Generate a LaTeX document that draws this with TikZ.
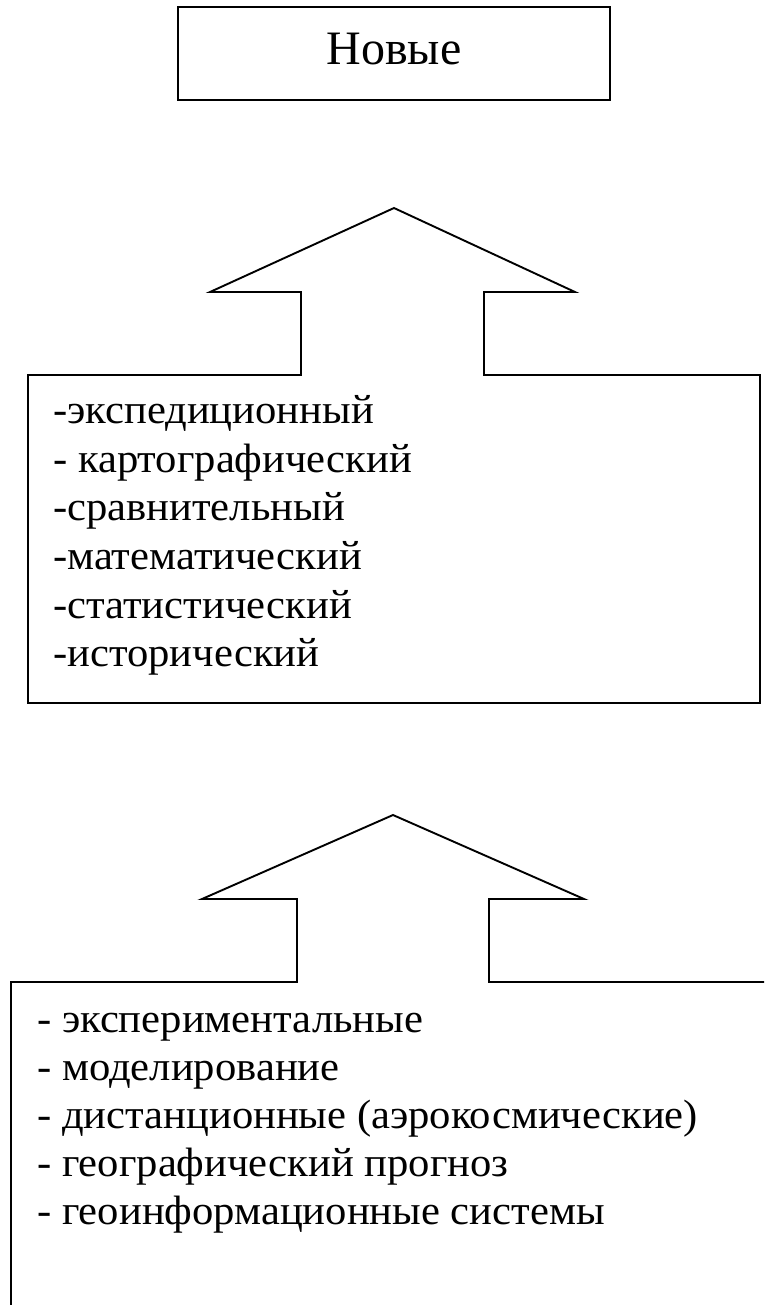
\documentclass[tikz,border=0pt]{standalone}
\usepackage{fontspec}
\setmainfont{Liberation Serif}
\newfontfamily\itemfont[FakeStretch=1.04]{Liberation Serif}
\begin{document}
\begin{tikzpicture}[x=1pt,y=-1pt,
  outline/.style={draw=black,line width=1.9pt,line join=miter},
  item/.style={anchor=base west,inner sep=0pt,font=\itemfont\fontsize{41}{48}\selectfont},
  titlebox/.style={draw=black,line width=1.9pt,minimum width=432pt,minimum height=93pt,
     inner sep=0pt,text height=35pt,text depth=12pt,font=\fontsize{48}{56}\selectfont}]
\useasboundingbox[fill=white] (0,0) rectangle (764,1305);
% title
\node[titlebox] (title) at (394,53.5) {Новые};
% upper arrow-box
\draw[outline] (28,375) -- (301,375) -- (301,292) -- (210,292) -- (394,208)
  -- (575,292) -- (484,292) -- (484,375) -- (760,375) -- (760,703) -- (28,703) -- cycle;
\node[item] (a1) at (53,423) {-экспедиционный};
\node[item] (a2) at (53,472) {- картографический};
\node[item] (a3) at (53,520) {-сравнительный};
\node[item] (a4) at (53,569) {-математический};
\node[item] (a5) at (53,618) {-статистический};
\node[item] (a6) at (53,666) {-исторический};
% lower arrow-box
\draw[outline] (764,982) -- (489,982) -- (489,899) -- (584,899) -- (393,815)
  -- (202,899) -- (297,899) -- (297,982) -- (11,982) -- (11,1306);
\node[item] (b1) at (37,1032) {- экспериментальные};
\node[item] (b2) at (37,1080) {- моделирование};
\node[item] (b3) at (37,1128) {- дистанционные (аэрокосмические)};
\node[item] (b4) at (37,1176) {- географический прогноз};
\node[item] (b5) at (37,1224) {- геоинформационные системы};
\end{tikzpicture}
\end{document}
